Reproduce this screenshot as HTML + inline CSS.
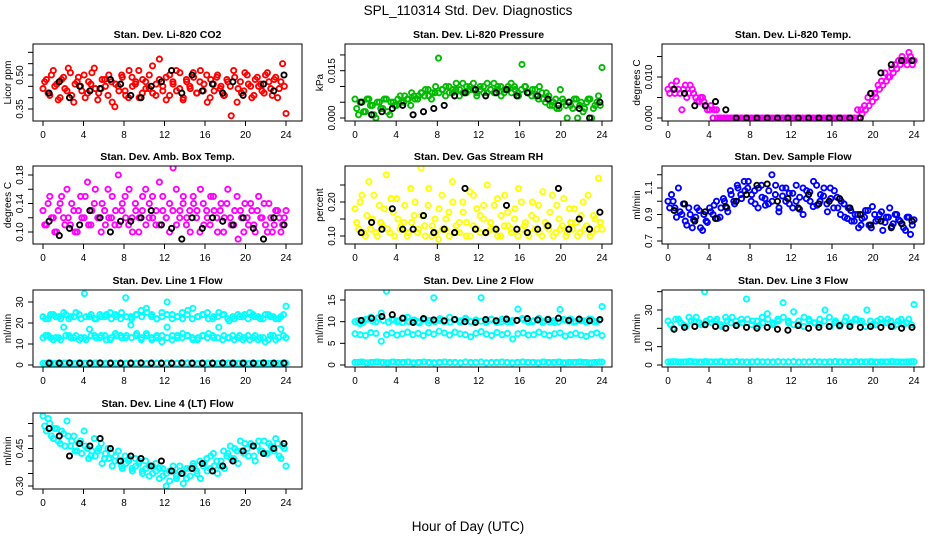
<!DOCTYPE html>
<html><head><meta charset="utf-8">
<style>
html,body{margin:0;padding:0;background:#fff;}
svg{display:block;font-family:"Liberation Sans",Arial,sans-serif;}
</style></head>
<body>
<svg id="chart" width="936" height="540" viewBox="0 0 936 540" xmlns="http://www.w3.org/2000/svg">
<rect x="0" y="0" width="936" height="540" fill="#fff"/>
<text x="468" y="15" font-size="13.5" text-anchor="middle">SPL_110314  Std. Dev. Diagnostics</text>
<text x="468" y="531" font-size="13.5" text-anchor="middle">Hour of Day (UTC)</text>
</svg>
<script>
// ---- data ----
const xTicks = [0,4,8,12,16,20,24];

const co2Red = [0.44,0.48,0.41,0.52,0.46,0.40,0.49,0.43,0.51,0.38,0.47,0.45,0.50,0.42,0.46,0.53,0.39,0.44,0.48,0.41,0.47,0.36,0.45,0.50,0.43,0.40,0.49,0.46,0.52,0.42,0.47,0.44,0.54,0.41,0.48,0.45,0.39,0.50,0.46,0.43,0.51,0.40,0.47,0.44,0.49,0.42,0.52,0.46,0.38,0.48,0.43,0.50,0.45,0.41,0.47,0.32,0.49,0.44,0.42,0.51,0.46,0.40,0.48,0.45,0.43,0.50,0.47,0.41,0.49,0.44,0.55,0.33];
const co2Red2 = [0.47,0.42,0.50,0.45,0.39,0.48,0.44,0.53,0.41,0.46,0.49,0.43,0.40,0.47,0.51,0.44,0.42,0.48,0.45,0.50,0.38,0.46,0.43,0.49,0.41,0.52,0.45,0.47,0.40,0.48,0.44,0.50,0.42,0.46,0.57,0.43,0.49,0.41,0.47,0.52,0.44,0.39,0.48,0.45,0.51,0.42,0.47,0.43,0.50,0.40,0.46,0.49,0.44,0.41,0.48,0.45,0.52,0.38,0.47,0.43,0.50,0.45,0.41,0.49,0.46,0.42,0.51,0.44,0.48,0.40,0.47,0.45];
const co2Black = [0.42,0.47,0.40,0.45,0.43,0.44,0.48,0.46,0.41,0.40,0.45,0.47,0.52,0.42,0.50,0.43,0.46,0.42,0.47,0.41,0.65,0.46,0.43,0.50];

const presGreen = [0.006,0.001,0.005,0.002,0.006,0.004,0.000,0.005,0.003,0.006,0.001,0.005,0.004,0.007,0.005,0.006,0.004,0.007,0.006,0.008,0.007,0.009,0.006,0.008,0.019,0.009,0.007,0.010,0.008,0.009,0.007,0.011,0.008,0.010,0.009,0.007,0.010,0.008,0.011,0.009,0.008,0.010,0.007,0.009,0.010,0.008,0.009,0.007,0.017,0.010,0.008,0.009,0.007,0.010,0.006,0.008,0.004,0.005,0.003,0.009,0.005,0.000,0.004,0.006,0.000,0.005,0.003,0.006,0.000,0.004,0.007,0.016];
const presGreen2 = [0.003,0.005,0.002,0.006,0.004,0.001,0.005,0.003,0.006,0.002,0.005,0.004,0.006,0.005,0.007,0.006,0.008,0.006,0.007,0.008,0.009,0.007,0.008,0.010,0.008,0.009,0.010,0.008,0.009,0.011,0.009,0.008,0.010,0.009,0.011,0.008,0.009,0.010,0.008,0.009,0.011,0.009,0.010,0.008,0.009,0.011,0.010,0.008,0.009,0.010,0.008,0.007,0.009,0.006,0.008,0.005,0.007,0.004,0.006,0.003,0.006,0.004,0.005,0.003,0.006,0.004,0.002,0.005,0.006,0.003,0.005,0.004];
const presBlack = [0.005,0.001,0.002,0.003,0.004,0.001,0.002,0.003,0.004,0.007,0.008,0.009,0.007,0.008,0.009,0.007,0.008,0.007,0.006,0.004,0.005,0.003,0.000,0.005];

const tempMag = [0.007,0.008,0.006,0.007,0.002,0.008,0.006,0.007,0.005,0.004,0.005,0.003,0.002,0.000,0.002,0,0,0,0,0,0,0,0,0,0,0,0,0,0,0,0,0,0,0,0,0,0,0,0,0,0,0,0,0,0,0,0,0,0,0,0,0,0,0,0,0,0.001,0.002,0.003,0.004,0.005,0.007,0.008,0.009,0.010,0.011,0.012,0.013,0.014,0.013,0.015,0.014];
const tempMag2 = [0.006,0.007,0.009,0.006,0.007,0.005,0.008,0.006,0.004,0.005,0.004,0.002,0.003,0.002,0.000,0,0,0,0,0,0,0,0,0,0,0,0,0,0,0,0,0,0,0,0,0,0,0,0,0,0,0,0,0,0,0,0,0,0,0,0,0,0,0,0,0.002,0.002,0.003,0.005,0.006,0.006,0.008,0.009,0.011,0.010,0.012,0.013,0.014,0.015,0.014,0.016,0.013];
const tempBlack = [0.007,0.006,0.003,0.003,0.004,0.002,0,0,0,0,0,0,0,0,0,0,0,0,0,0.006,0.011,0.013,0.014,0.014];

const boxMag = [0.13,0.11,0.15,0.12,0.10,0.14,0.12,0.16,0.11,0.13,0.10,0.15,0.12,0.17,0.11,0.14,0.12,0.10,0.13,0.16,0.12,0.11,0.18,0.13,0.15,0.11,0.12,0.14,0.10,0.13,0.16,0.12,0.15,0.11,0.17,0.13,0.12,0.14,0.19,0.11,0.13,0.15,0.12,0.10,0.14,0.13,0.16,0.11,0.12,0.15,0.13,0.10,0.14,0.12,0.16,0.11,0.13,0.09,0.12,0.14,0.11,0.13,0.10,0.15,0.12,0.11,0.14,0.10,0.13,0.12,0.11,0.13];
const boxMag2 = [0.11,0.14,0.12,0.10,0.13,0.15,0.11,0.12,0.14,0.10,0.13,0.12,0.15,0.11,0.13,0.16,0.12,0.14,0.11,0.12,0.15,0.13,0.11,0.14,0.12,0.16,0.10,0.13,0.12,0.15,0.11,0.14,0.12,0.13,0.11,0.15,0.12,0.10,0.13,0.16,0.12,0.14,0.11,0.13,0.15,0.12,0.10,0.14,0.13,0.11,0.15,0.12,0.13,0.10,0.14,0.12,0.11,0.15,0.13,0.10,0.12,0.14,0.11,0.13,0.12,0.14,0.10,0.12,0.11,0.13,0.10,0.12];
const boxBlack = [0.115,0.095,0.105,0.11,0.13,0.12,0.10,0.115,0.115,0.12,0.13,0.11,0.105,0.09,0.12,0.105,0.12,0.115,0.11,0.12,0.105,0.09,0.12,0.11];

const rhYellow = [0.18,0.12,0.22,0.10,0.26,0.15,0.11,0.19,0.13,0.28,0.11,0.17,0.21,0.12,0.14,0.10,0.24,0.16,0.11,0.30,0.13,0.19,0.10,0.15,0.09,0.22,0.12,0.17,0.26,0.11,0.14,0.20,0.10,0.23,0.13,0.18,0.11,0.15,0.25,0.12,0.19,0.10,0.16,0.22,0.13,0.11,0.18,0.24,0.12,0.14,0.10,0.20,0.15,0.11,0.23,0.13,0.17,0.10,0.19,0.12,0.21,0.11,0.14,0.18,0.10,0.16,0.12,0.22,0.11,0.15,0.27,0.12];
const rhYellow2 = [0.14,0.20,0.11,0.16,0.12,0.22,0.10,0.14,0.18,0.12,0.21,0.10,0.15,0.13,0.19,0.11,0.14,0.20,0.12,0.16,0.10,0.24,0.13,0.11,0.18,0.12,0.15,0.10,0.20,0.13,0.11,0.17,0.14,0.10,0.22,0.12,0.16,0.19,0.11,0.14,0.12,0.21,0.10,0.13,0.17,0.12,0.15,0.10,0.20,0.13,0.11,0.16,0.12,0.19,0.10,0.14,0.12,0.22,0.11,0.15,0.13,0.10,0.18,0.12,0.14,0.11,0.20,0.13,0.10,0.16,0.12,0.14];
const rhBlack = [0.11,0.14,0.12,0.18,0.12,0.12,0.16,0.11,0.12,0.11,0.24,0.12,0.11,0.12,0.19,0.12,0.11,0.12,0.13,0.24,0.12,0.15,0.12,0.17];

const flowBlue = [1.0,1.05,0.95,1.1,0.9,0.85,0.95,0.8,0.88,0.93,0.78,0.85,0.95,0.9,1.0,0.88,1.02,0.95,1.08,1.0,1.12,1.05,1.15,1.1,1.0,1.08,0.95,1.12,1.02,0.98,1.2,1.05,0.92,1.1,1.0,1.06,0.95,1.12,1.03,0.9,1.08,1.0,1.15,0.97,1.05,1.1,0.92,1.02,1.08,0.95,1.0,0.88,0.95,0.85,0.9,0.8,0.87,0.93,0.82,0.96,0.85,0.9,0.78,0.88,0.95,0.83,0.9,0.85,0.8,0.88,0.75,0.86];
const flowBlue2 = [0.95,1.0,0.88,0.92,0.98,0.82,0.9,0.86,0.95,0.8,0.9,0.84,0.92,0.97,0.87,0.95,1.0,0.92,1.05,0.98,1.1,1.02,1.08,1.15,1.05,0.98,1.1,1.03,0.97,1.08,1.0,1.12,0.95,1.04,1.1,0.98,1.06,1.0,0.94,1.1,1.02,1.07,0.96,1.12,1.0,1.04,0.98,1.1,0.95,1.03,0.9,0.98,0.87,0.93,0.85,0.9,0.82,0.88,0.93,0.8,0.9,0.86,0.92,0.84,0.88,0.81,0.9,0.86,0.83,0.78,0.88,0.82];
const flowBlack = [0.93,0.98,0.85,0.92,0.87,0.96,1.0,1.05,1.12,1.13,1.0,1.02,0.95,1.05,0.98,1.0,1.02,0.95,0.9,0.82,0.85,0.8,0.83,0.85];

const line1High = [23,22,24,23,25,22,23,24,34,23,22,24,23,25,24,22,32,23,24,26,27,23,22,25,30,24,23,22,26,27,23,24,22,23,25,24,21,22,23,24,25,23,22,24,23,22,23,28];
const line1High2 = [22,24,23,22,24,23,25,22,23,24,22,23,24,22,23,25,23,22,24,23,25,24,22,23,24,22,23,25,24,22,23,24,25,22,23,24,22,23,24,23,22,24,23,22,24,23,22,24];
const line1Mid = [13,14,12,13,18,14,13,12,13,17,14,13,14,12,15,14,13,19,14,12,15,13,14,11,18,14,13,15,14,12,13,14,15,13,18,14,13,12,14,13,12,14,13,11,14,12,17,13];
const line1Mid2 = [14,13,13,12,14,13,14,13,12,14,13,14,12,13,14,13,14,13,15,13,14,12,13,14,13,12,14,13,14,13,12,14,13,14,13,12,13,14,13,12,14,13,12,13,12,14,13,14];
const line1Low = [0.8,0.9,0.7,0.8,0.9,0.8,0.7,0.9,0.8,0.8,0.9,0.7,0.8,0.9,0.8,0.7,0.8,0.9,0.8,0.8,0.7,0.9,0.8,0.8,0.9,0.7,0.8,0.8,0.9,0.8,0.7,0.8,0.9,0.8,0.8,0.7,0.9,0.8,0.8,0.9,0.7,0.8,0.8,0.9,0.8,0.7,0.8,0.9];
const line1Black = [0.9,0.9,1.0,0.9,0.9,1.0,0.9,0.9,0.9,1.0,0.9,0.9,0.9,1.0,0.9,0.9,0.9,1.0,0.9,0.9,0.9,1.0,0.9,0.9];

const line2High = [10,9.5,10.5,11,10,12,17,10.5,10,9.8,11,10.2,10,10.5,9.7,15.5,10.3,10,11,10.4,9.9,10.6,10,10.2,15.5,10.1,10.5,9.8,10.6,10,10.3,12.9,10.5,9.9,10.2,10.8,10.1,10,9.8,12.8,10.4,10.6,10,10.2,9.9,10.5,10,13.5];
const line2High2 = [10.2,9.8,10.6,10.1,10.9,10.3,9.9,10.5,10.2,10.8,10,10.4,9.7,10.6,10.3,10,10.7,10.1,9.9,10.5,10.2,10.8,10,10.4,10.1,9.8,10.6,10.2,10,10.5,9.9,10.3,10.7,10.1,10,10.4,9.8,10.6,10.2,10,10.5,10.1,9.9,10.4,10.2,10.6,10,10.3];
const line2Mid = [7.2,7,6.8,7.5,7.3,5.5,7,7.4,6.9,7.2,7.6,7,7.3,6.8,7.5,7.1,7.8,7.4,6.9,7.6,7.2,7,6.5,7.3,7.7,7.1,6.8,7.5,7,7.3,6,7.2,7.4,6.9,7,7.6,7.1,6.8,7.2,7.4,6.7,7,7.3,6.9,6.6,7.1,7.4,6.8];
const line2Low = [0.6,0.7,0.5,0.6,0.7,0.6,0.5,0.7,0.6,0.6,0.7,0.5,0.6,0.7,0.6,0.5,0.6,0.7,0.6,0.6,0.5,0.7,0.6,0.6,0.7,0.5,0.6,0.6,0.7,0.6,0.5,0.6,0.7,0.6,0.6,0.5,0.7,0.6,0.6,0.7,0.5,0.6,0.6,0.7,0.6,0.5,0.6,0.7];
const line2Black = [10.3,10.8,11.2,11.6,10.8,9.8,10.7,10.4,10.2,10.5,10.0,9.8,10.5,10.2,10.6,10.3,10.7,10.4,10.5,10.8,10.3,10.6,10.2,10.5];

const line3High = [24,20,25,22,26,24,23,40,25,24,22,26,23,24,25,36,22,24,26,28,23,25,34,24,29,22,26,24,23,25,30,21,24,22,26,23,25,24,30,22,24,23,25,21,24,22,25,33];
const line3High2 = [22,25,23,21,24,26,22,24,23,25,21,24,26,22,23,25,24,21,23,25,22,24,26,23,22,24,21,25,23,22,24,26,23,21,24,22,25,23,21,24,22,25,23,24,22,25,23,22];
const line3Low = [1.7,1.8,1.6,1.7,1.9,1.7,1.6,1.8,1.7,1.7,1.8,1.6,1.7,1.8,1.7,1.6,1.7,1.8,1.7,1.7,1.6,1.8,1.7,1.7,1.8,1.6,1.7,1.7,1.8,1.7,1.6,1.7,1.8,1.7,1.7,1.6,1.8,1.7,1.7,1.8,1.6,1.7,1.7,1.8,1.7,1.6,1.7,1.8];
const line3Black = [19.5,20.5,21,22,21,20,21.5,20.5,20,20.5,19.5,19,21.5,20,20.5,21,21.5,21,20.5,21,20.5,21,20,20.5];

const line4Cyan = [0.58,0.52,0.55,0.49,0.53,0.47,0.51,0.56,0.46,0.50,0.44,0.48,0.52,0.45,0.42,0.49,0.44,0.47,0.41,0.45,0.43,0.40,0.44,0.38,0.42,0.40,0.37,0.41,0.39,0.36,0.40,0.38,0.35,0.39,0.37,0.34,0.30,0.36,0.38,0.33,0.36,0.31,0.37,0.34,0.38,0.35,0.33,0.39,0.36,0.42,0.38,0.35,0.40,0.37,0.43,0.41,0.45,0.39,0.44,0.47,0.42,0.46,0.40,0.48,0.44,0.43,0.47,0.45,0.49,0.42,0.46,0.38];
const line4Cyan2 = [0.54,0.57,0.50,0.53,0.48,0.52,0.46,0.50,0.48,0.44,0.47,0.43,0.46,0.41,0.44,0.42,0.45,0.39,0.43,0.41,0.38,0.42,0.40,0.37,0.39,0.41,0.36,0.38,0.40,0.35,0.37,0.34,0.38,0.36,0.33,0.37,0.35,0.32,0.36,0.34,0.38,0.35,0.33,0.37,0.39,0.36,0.40,0.38,0.41,0.37,0.43,0.40,0.38,0.44,0.42,0.46,0.41,0.44,0.48,0.43,0.45,0.47,0.42,0.46,0.44,0.48,0.43,0.46,0.44,0.47,0.41,0.45];
const line4Black = [0.53,0.50,0.42,0.47,0.46,0.49,0.45,0.40,0.42,0.41,0.38,0.40,0.36,0.35,0.37,0.39,0.36,0.38,0.40,0.44,0.46,0.43,0.45,0.47];

// ---- layout ----
const cols = [{l:33,r:302,x0:43,x24:286,yl:11,tl:23},{l:345,r:612,x0:355,x24:602,yl:323,tl:335},{l:662,r:924,x0:668,x24:914,yl:640,tl:652}];
const rows = [{t:44,b:121},{t:166,b:244},{t:290,b:367},{t:413,b:489}];
const panels = [
 {id:'co2',title:'Stan. Dev. Li-820 CO2',ylab:'Licor ppm',c:0,r:0,v1:0.35,p1:109,v2:0.50,p2:75,ticks:[0.35,0.40,0.45,0.50,0.55,0.60],labels:['0.35','0.50'],dec:2,series:[[co2Red,'#ff0000',0],[co2Red2,'#ff0000',1],[co2Black,'#000']]},
 {id:'pressure',title:'Stan. Dev. Li-820 Pressure',ylab:'kPa',c:1,r:0,v1:0,p1:118,v2:0.015,p2:70.7,ticks:[0,0.005,0.010,0.015,0.020],labels:['0.000','0.015'],dec:3,series:[[presGreen,'#00bb00',0],[presGreen2,'#00bb00',1],[presBlack,'#000']]},
 {id:'temp',title:'Stan. Dev. Li-820 Temp.',ylab:'degrees C',c:2,r:0,v1:0,p1:118,v2:0.010,p2:77,ticks:[0,0.005,0.010,0.015],labels:['0.000','0.010'],dec:3,series:[[tempMag,'#ff00ff',0],[tempMag2,'#ff00ff',1],[tempBlack,'#000']]},
 {id:'box-temp',title:'Stan. Dev. Amb. Box Temp.',ylab:'degrees C',c:0,r:1,v1:0.10,p1:232,v2:0.18,p2:175,ticks:[0.10,0.12,0.14,0.16,0.18],labels:['0.10','0.14','0.18'],dec:2,series:[[boxMag,'#ff00ff',0],[boxMag2,'#ff00ff',1],[boxBlack,'#000']]},
 {id:'rh',title:'Stan. Dev. Gas Stream RH',ylab:'percent',c:1,r:1,v1:0.10,p1:236,v2:0.20,p2:202,ticks:[0.10,0.15,0.20,0.25],labels:['0.10','0.20'],dec:2,series:[[rhYellow,'#ffff00',0],[rhYellow2,'#ffff00',1],[rhBlack,'#000']]},
 {id:'sample-flow',title:'Stan. Dev. Sample Flow',ylab:'ml/min',c:2,r:1,v1:0.7,p1:241,v2:1.1,p2:188,ticks:[0.7,0.8,0.9,1.0,1.1,1.2],labels:['0.7','0.9','1.1'],dec:1,series:[[flowBlue,'#0000ff',0],[flowBlue2,'#0000ff',1],[flowBlack,'#000']]},
 {id:'line1',title:'Stan. Dev. Line 1 Flow',ylab:'ml/min',c:0,r:2,v1:0,p1:365,v2:30,p2:302,ticks:[0,10,20,30],labels:['0','10','20','30'],dec:0,series:[[line1High,'#00ffff',0],[line1High2,'#00ffff',1],[line1Mid,'#00ffff',0],[line1Mid2,'#00ffff',1],[line1Low,'#00ffff',0],[line1Low,'#00ffff',1],[line1Black,'#000']]},
 {id:'line2',title:'Stan. Dev. Line 2 Flow',ylab:'ml/min',c:1,r:2,v1:0,p1:365,v2:15,p2:300,ticks:[0,5,10,15],labels:['0','5','10','15'],dec:0,series:[[line2High,'#00ffff',0],[line2High2,'#00ffff',1],[line2Mid,'#00ffff',0],[line2Low,'#00ffff',0],[line2Low,'#00ffff',1],[line2Black,'#000']]},
 {id:'line3',title:'Stan. Dev. Line 3 Flow',ylab:'ml/min',c:2,r:2,v1:0,p1:365,v2:30,p2:310,ticks:[0,10,20,30,40],labels:['0','10','30'],dec:0,series:[[line3High,'#00ffff',0],[line3High2,'#00ffff',1],[line3Low,'#00ffff',0],[line3Low,'#00ffff',1],[line3Black,'#000']]},
 {id:'line4',title:'Stan. Dev. Line 4 (LT) Flow',ylab:'ml/min',c:0,r:3,v1:0.30,p1:486,v2:0.45,p2:448.5,ticks:[0.30,0.35,0.40,0.45,0.50,0.55],labels:['0.30','0.45'],dec:2,series:[[line4Cyan,'#00ffff',0],[line4Cyan2,'#00ffff',1],[line4Black,'#000']]}
];

const NS = 'http://www.w3.org/2000/svg';
const svg = document.getElementById('chart');
function mk(tag, attrs, parent){
  const e = document.createElementNS(NS, tag);
  for (const k in attrs) e.setAttribute(k, attrs[k]);
  (parent||svg).appendChild(e);
  return e;
}

panels.forEach(p => {
  const c = cols[p.c], r = rows[p.r];
  const g = mk('g', {});
  
  
  const xs = h => c.x0 + (c.x24 - c.x0) * h / 24;
  const ys = v => p.p1 + (v - p.v1) * (p.p2 - p.p1) / (p.v2 - p.v1);

  const clip = mk('clipPath', {id:'clip-' + p.id}, g);
  mk('rect', {x:c.l, y:r.t, width:c.r - c.l, height:r.b - r.t}, clip);
  const pts = mk('g', {'clip-path':'url(#clip-' + p.id + ')', fill:'none', 'stroke-width':'1.9'}, g);
  p.series.forEach(s => {
    const vals = s[0], col = s[1], off = s[2];
    const isBlack = col === '#000';
    const n = vals.length;
    vals.forEach((v, i) => {
      let h;
      if (isBlack) h = 0.6 + i * 23.2 / (n - 1);
      else if (off) h = (i + 0.5) * 24 / n;
      else h = i * 24 / (n - 1);
      const pt = mk('circle', {cx:xs(h).toFixed(1), cy:ys(v).toFixed(1), r:'2.6', stroke:col}, pts);
      
      
    });
  });

  const box = mk('rect', {x:c.l, y:r.t, width:c.r - c.l, height:r.b - r.t, fill:'none', stroke:'#000', 'stroke-width':'1'}, g);
  
  

  const title = mk('text', {x:(c.l + c.r) / 2, y:r.t - 6, 'font-size':'10.5', 'font-weight':'bold', 'text-anchor':'middle'}, g);
  title.textContent = p.title;
  
  

  xTicks.forEach(t => {
    const x = xs(t);
    mk('line', {x1:x, x2:x, y1:r.b, y2:r.b + 5, stroke:'#000'}, g);
    const lb = mk('text', {x:x, y:r.b + 17, 'font-size':'10', 'text-anchor':'middle'}, g);
    lb.textContent = t;
    
    
  });
  p.ticks.forEach(t => {
    const y = ys(t);
    mk('line', {x1:c.l - 5, x2:c.l, y1:y, y2:y, stroke:'#000'}, g);
    const txt = p.dec === 0 ? String(t) : t.toFixed(p.dec);
    if (p.labels.indexOf(txt) >= 0) {
      const lb = mk('text', {x:c.tl, y:y, 'font-size':'10', 'text-anchor':'middle', transform:'rotate(-90 ' + c.tl + ' ' + y + ')'}, g);
      lb.textContent = txt;
      
      
    }
  });
  const ym = (r.t + r.b) / 2;
  const yl = mk('text', {x:c.yl, y:ym, 'font-size':'10', 'text-anchor':'middle', transform:'rotate(-90 ' + c.yl + ' ' + ym + ')'}, g);
  yl.textContent = p.ylab;
  
  
});
</script>
</body></html>
